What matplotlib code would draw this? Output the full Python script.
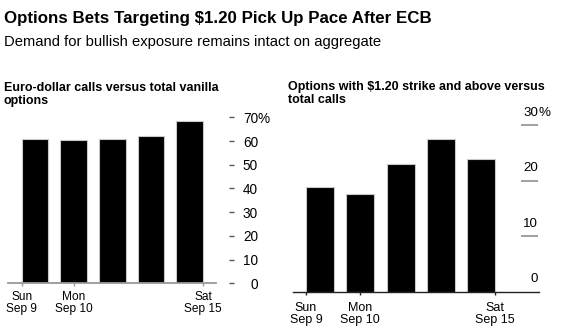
import matplotlib.pyplot as plt
from matplotlib.ticker import FixedLocator

plt.rcParams['font.family'] = ['Liberation Sans', 'DejaVu Sans']

# ================= DATA =================
days = ["Mon", "Tue", "Wed", "Thu", "Fri"]
calls_vs_vanilla = [60.7, 60.3, 61.0, 62.0, 68.6]
strike_120_vs_calls = [18.8, 17.5, 22.9, 27.4, 23.8]
date_labels = ["Sun\nSep 9", "Mon\nSep 10", "Sat\nSep 15"]
left_yticks = [0, 10, 20, 30, 40, 50, 60, 70]
right_yticks = [0, 10, 20, 30]

W, H = 562, 332
BAR_W = 0.69
PT = 72 / 100  # points per pixel


def px_rect(x0, x1, y_top, y_bot):
    return [x0 / W, 1 - y_bot / H, (x1 - x0) / W, (y_bot - y_top) / H]


fig = plt.figure(figsize=(W / 100, H / 100), dpi=100)

# ================= TITLES =================
fig.text(4 / W, 1 - 22.5 / H, "Options Bets Targeting $1.20 Pick Up Pace After ECB",
         fontsize=12.2, fontweight='bold', va='baseline', ha='left')
fig.text(4 / W, 1 - 46 / H, "Demand for bullish exposure remains intact on aggregate",
         fontsize=10.6, va='baseline', ha='left')
fig.text(4 / W, 1 - 104.5 / H, "Euro-dollar calls versus total vanilla\noptions",
         fontsize=9.0, fontweight='bold', va='baseline', ha='left', linespacing=1.2)
fig.text(288 / W, 1 - 102.5 / H, "Options with $1.20 strike and above versus\ntotal calls",
         fontsize=9.0, fontweight='bold', va='baseline', ha='left', linespacing=1.08)

x = list(range(len(days)))
xticks = [x[0] - BAR_W / 2, x[1], x[-1] + BAR_W / 2]

# ================= LEFT CHART =================
ax1 = fig.add_axes(px_rect(8, 216, 117.3, 283.3))
ax1.bar(x, calls_vs_vanilla, width=BAR_W, color='black', edgecolor='#c8c8c8', linewidth=0.8)
ax1.set_xlim(-0.70, 4.68)
ax1.set_ylim(0, 70)
for s in ['top', 'left', 'right']:
    ax1.spines[s].set_visible(False)
ax1.spines['bottom'].set_color('#999999')
ax1.spines['bottom'].set_linewidth(1.3)
ax1.spines['right'].set_position(('outward', 13 * PT))
ax1.yaxis.tick_right()
ax1.yaxis.set_major_locator(FixedLocator(left_yticks))
ax1.set_yticklabels([str(v) for v in left_yticks], ha='right')
ax1.tick_params(axis='y', length=5 * PT, width=1, color='#555555', pad=24 * PT, labelsize=9.8)
ax1.annotate("%", xy=(1, left_yticks[-1]), xycoords=('axes fraction', 'data'),
             xytext=(42 * PT, 0), textcoords='offset points',
             ha='left', va='center_baseline', fontsize=9.8)
ax1.set_xticks(xticks)
ax1.set_xticklabels(date_labels, linespacing=1.0)
ax1.tick_params(axis='x', length=3 * PT, width=1, color='#999999', pad=5 * PT, labelsize=8.6)

# ================= RIGHT CHART =================
ax2 = fig.add_axes(px_rect(292.7, 539, 125, 291.7))
ax2.bar(x, strike_120_vs_calls, width=BAR_W, color='black', edgecolor='#c8c8c8', linewidth=0.8)
ax2.set_xlim(-0.674, 5.43)
ax2.set_ylim(0, 30)
for s in ['top', 'left', 'right']:
    ax2.spines[s].set_visible(False)
ax2.spines['bottom'].set_color('#222222')
ax2.spines['bottom'].set_linewidth(1.0)
ax2.set_yticks([])
ax2.set_xticks(xticks)
ax2.set_xticklabels(date_labels, linespacing=1.0)
ax2.tick_params(axis='x', length=3 * PT, width=1, color='#222222', pad=7 * PT, labelsize=9)

ax2.hlines(right_yticks[1:], 0.927, 0.997, transform=ax2.get_yaxis_transform(),
           color='#999999', linewidth=1.3, clip_on=False)
for v in right_yticks:
    ax2.annotate(f"{v}", xy=(0.997, v), xycoords=('axes fraction', 'data'),
                 xytext=(0, 4.5), textcoords='offset points',
                 ha='right', va='bottom', fontsize=9.6)
ax2.annotate("%", xy=(0.997, right_yticks[-1]), xycoords=('axes fraction', 'data'),
             xytext=(0, 4.5), textcoords='offset points',
             ha='left', va='bottom', fontsize=9.6)

fig.savefig("out.png", dpi=100)
